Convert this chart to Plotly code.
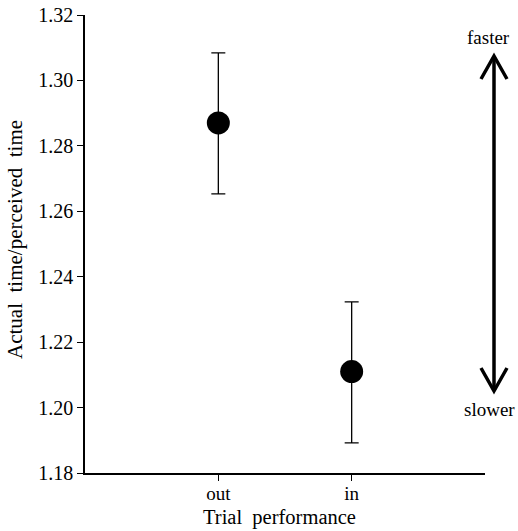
import plotly.graph_objects as go

categories = ["out", "in"]
means = [1.287, 1.211]
err_upper = [1.3084, 1.2323]
err_lower = [1.2653, 1.1892]
y_ticks = [1.18, 1.20, 1.22, 1.24, 1.26, 1.28, 1.30, 1.32]

x_pos = list(range(len(categories)))
plus = [u - m for u, m in zip(err_upper, means)]
minus = [m - l for m, l in zip(means, err_lower)]

FONT = "Liberation Serif"
W, H = 518, 531
L, R, T, B = 85, 33, 15, 58
pw, ph = W - L - R, H - T - B

def px(x):
    return (x - L) / pw

def py(y):
    return (H - B - y) / ph

fig = go.Figure()
fig.add_trace(go.Scatter(
    x=x_pos, y=means, mode="markers",
    marker=dict(size=23, color="black"),
    error_y=dict(type="data", symmetric=False, array=plus, arrayminus=minus,
                 color="black", thickness=1.3, width=7),
    showlegend=False,
))

ax = 494
top_tip, bot_tip = 56, 391
shapes = [
    dict(type="line", xref="paper", yref="paper", x0=px(ax), x1=px(ax),
         y0=py(top_tip + 2), y1=py(bot_tip - 2), line=dict(color="black", width=3.5)),
    dict(type="path", xref="paper", yref="paper",
         path=f"M{px(ax-13)},{py(top_tip+23)} L{px(ax)},{py(top_tip)} L{px(ax+13)},{py(top_tip+23)}",
         line=dict(color="black", width=3.5)),
    dict(type="path", xref="paper", yref="paper",
         path=f"M{px(ax-13)},{py(bot_tip-23)} L{px(ax)},{py(bot_tip)} L{px(ax+13)},{py(bot_tip-23)}",
         line=dict(color="black", width=3.5)),
]

annotations = [
    dict(text="faster", xref="paper", yref="paper", x=px(488), y=py(37),
         showarrow=False, font=dict(family=FONT, size=19, color="black"),
         xanchor="center", yanchor="middle"),
    dict(text="slower", xref="paper", yref="paper", x=px(489), y=py(409),
         showarrow=False, font=dict(family=FONT, size=19, color="black"),
         xanchor="center", yanchor="middle"),
    dict(text="Trial\u00a0 performance", xref="paper", yref="paper", x=px(279), y=py(517),
         showarrow=False, font=dict(family=FONT, size=20.5, color="black"),
         xanchor="center", yanchor="middle"),
    dict(text="Actual\u00a0 time/perceived\u00a0 time", xref="paper", yref="paper",
         x=px(15), y=py(240), textangle=-90,
         showarrow=False, font=dict(family=FONT, size=21, color="black"),
         xanchor="center", yanchor="middle"),
]

fig.update_layout(
    width=W, height=H,
    margin=dict(l=L, r=R, t=T, b=B),
    paper_bgcolor="white", plot_bgcolor="white",
    font=dict(family=FONT, size=20, color="black"),
    shapes=shapes, annotations=annotations,
)
fig.update_xaxes(
    range=[-1, 2], tickmode="array", tickvals=x_pos, ticktext=categories,
    showline=True, linecolor="black", linewidth=1.5, ticks="outside",
    ticklen=6, tickcolor="black", tickwidth=1.3, showgrid=False, zeroline=False,
    tickfont=dict(size=19), automargin=False, ticklabelstandoff=-4,
)
fig.update_yaxes(
    range=[1.18, 1.32], tickmode="array", tickvals=y_ticks,
    ticktext=[f"{v:.2f}" for v in y_ticks],
    showline=True, linecolor="black", linewidth=1.5, ticks="outside",
    ticklen=6, tickcolor="black", tickwidth=1.3, showgrid=False, zeroline=False,
    tickfont=dict(size=20), automargin=False,
)

fig.write_html("out.html")
